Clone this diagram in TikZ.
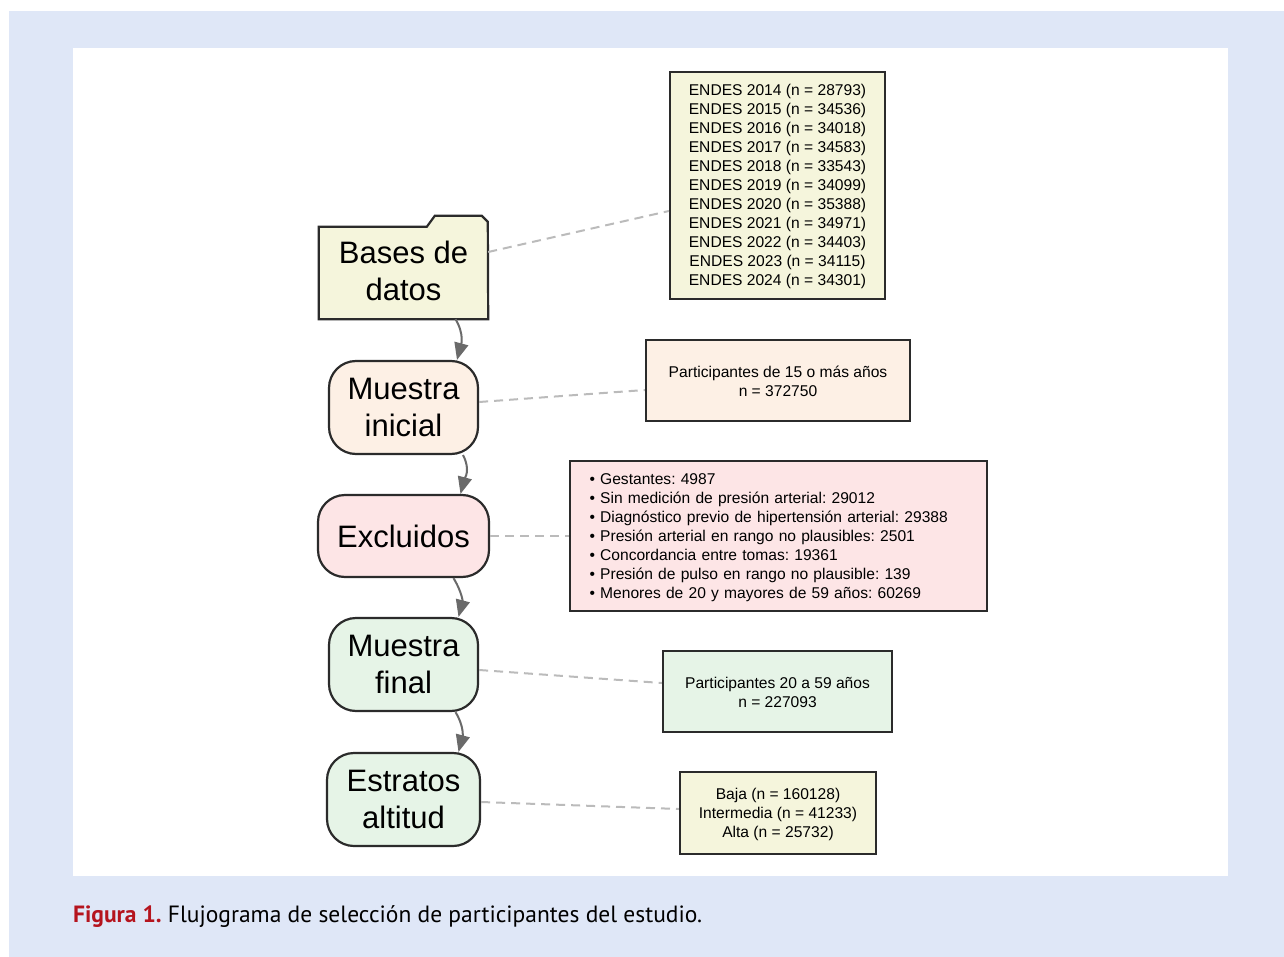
\documentclass[tikz,border=0pt]{standalone}
\usepackage{fontspec}
\setmainfont{Liberation Sans}
\newfontfamily\capfont{PT Sans}
\usetikzlibrary{arrows.meta,calc,backgrounds}
\frenchspacing
\definecolor{panelblue}{HTML}{DFE7F7}
\definecolor{beigecol}{HTML}{F5F5DC}
\definecolor{linencol}{HTML}{FDF0E5}
\definecolor{pinkcol}{HTML}{FDE5E6}
\definecolor{greencol}{HTML}{E6F4E7}
\definecolor{boxline}{HTML}{2B2B2B}
\definecolor{arrowgray}{HTML}{6A6A6A}
\definecolor{dashgray}{HTML}{BBBBBB}
\definecolor{figred}{HTML}{B5141E}
\tikzset{
  mainbox/.style={line width=2.2pt, draw=boxline, align=center, inner sep=0pt,
    font=\fontsize{31}{37}\selectfont, rounded corners=27pt},
  infobox/.style={line width=2.2pt, draw=boxline, align=center, inner sep=0pt,
    font=\fontsize{15.6}{19}\selectfont},
  flow/.style={draw=arrowgray, line width=2pt, -{Triangle[length=17pt,width=14pt]}},
  link/.style={draw=dashgray, line width=2pt, dash pattern=on 9pt off 6pt},
}
\begin{document}
\begin{tikzpicture}[x=1pt,y=-1pt]
\useasboundingbox (0,0) rectangle (1284,957);
\begin{scope}[on background layer]
  \fill[panelblue] (9,11) rectangle (1284,957);
  \fill[white] (73,48) rectangle (1228,876);
\end{scope}

% main column
\node[align=center, inner sep=0pt, minimum width=169pt, minimum height=92pt,
      font=\fontsize{31}{37}\selectfont] (bases) at (403.5,271) {Bases de\\datos};
\begin{scope}[on background layer]
  \draw[line width=2.2pt, draw=boxline, fill=beigecol, line join=miter]
    ([yshift=-2pt]bases.south west) -- ([yshift=-2pt]bases.north west) -- ++(108,0) -- ++(8,-11)
    -- ++(47,0) -- ++(6,6) -- ([yshift=-2pt]bases.south east) -- cycle;
\end{scope}
\node[mainbox, fill=linencol, minimum width=149pt, minimum height=93pt] (mi) at (403.5,407.5) {Muestra\\inicial};
\node[mainbox, fill=pinkcol, minimum width=171pt, minimum height=82pt] (exc) at (403.5,536) {Excluidos};
\node[mainbox, fill=greencol, minimum width=149pt, minimum height=93pt] (mf) at (403.5,664.5) {Muestra\\final};
\node[mainbox, fill=greencol, minimum width=153pt, minimum height=93pt] (es) at (403.5,799.5) {Estratos\\altitud};

% info boxes
\node[infobox, fill=beigecol, minimum width=215pt, minimum height=227pt] (endes) at (777.5,185.5)
 {\strut ENDES 2014 (n = 28793)\\ENDES 2015 (n = 34536)\\ENDES 2016 (n = 34018)\\ENDES 2017 (n = 34583)\\ENDES 2018 (n = 33543)\\ENDES 2019 (n = 34099)\\ENDES 2020 (n = 35388)\\ENDES 2021 (n = 34971)\\ENDES 2022 (n = 34403)\\ENDES 2023 (n = 34115)\\ENDES 2024 (n = 34301)};
\node[infobox, fill=linencol, minimum width=264pt, minimum height=81pt] (p15) at (778,380.5)
 {\strut Participantes de 15 o más años\\n = 372750};
\node[infobox, fill=pinkcol, align=left, text width=378pt, inner xsep=19.5pt, minimum height=150pt] (excl) at (778.5,536)
 {\strut • Gestantes: 4987\\• Sin medición de presión arterial: 29012\\• Diagnóstico previo de hipertensión arterial: 29388\\• Presión arterial en rango no plausibles: 2501\\• Concordancia entre tomas: 19361\\• Presión de pulso en rango no plausible: 139\\• Menores de 20 y mayores de 59 años: 60269};
\node[infobox, fill=greencol, minimum width=229pt, minimum height=81pt] (p20) at (777.5,691.5)
 {\strut Participantes 20 a 59 años\\n = 227093};
\node[infobox, fill=beigecol, minimum width=196pt, minimum height=82pt] (alt) at (778,813)
 {\strut Baja (n = 160128)\\Intermedia (n = 41233)\\Alta (n = 25732)};

% flow arrows
\draw[flow] ([xshift=52pt,yshift=-2pt]bases.south) .. controls +(9,15) and +(4,-15) .. ([xshift=53.5pt]mi.north);
\draw[flow] ([xshift=59.5pt]mi.south) .. controls +(8,15) and +(4,-15) .. ([xshift=57pt]exc.north);
\draw[flow] ([xshift=50pt]exc.south) .. controls +(9,15) and +(4,-15) .. ([xshift=55pt]mf.north);
\draw[flow] ([xshift=52pt]mf.south) .. controls +(9,15) and +(4,-15) .. ([xshift=55pt]es.north);

% dashed links
\draw[link] ([yshift=19pt]bases.east) -- ([yshift=-25.5pt]endes.west);
\draw[link] ([yshift=5.5pt]mi.east) -- ([yshift=-9.5pt]p15.west);
\draw[link] (exc.east) -- (excl.west);
\draw[link] ([yshift=-5.5pt]mf.east) -- ([yshift=8.5pt]p20.west);
\draw[link] ([yshift=-2.5pt]es.east) -- ([yshift=4pt]alt.west);

% caption
\node[anchor=base west, inner sep=0pt, font=\capfont\fontsize{23.5}{28}\selectfont] (cap) at (73,922)
 {\textcolor{figred}{\bfseries Figura 1.} Flujograma de selección de participantes del estudio.};
\end{tikzpicture}
\end{document}
